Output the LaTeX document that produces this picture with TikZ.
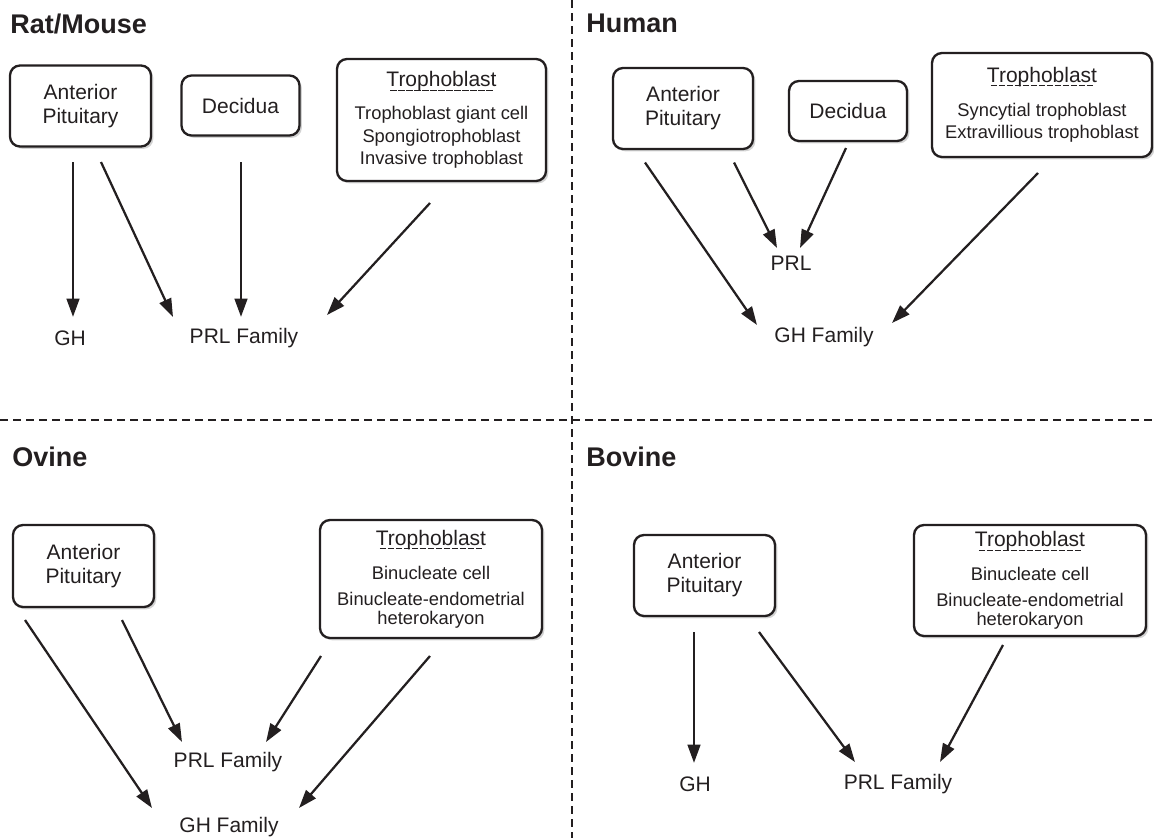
\documentclass[tikz,border=0pt]{standalone}
\usepackage{fontspec}
\setmainfont{Liberation Sans}
\usetikzlibrary{arrows.meta,shadows}
\definecolor{ink}{RGB}{35,31,32}
\newcommand\brokenul[1]{\setbox0\hbox{#1}\leavevmode
  \rlap{\raisebox{-2.4pt}{\hbox to \wd0{\cleaders\hbox{\kern.5pt\vrule width 3.8pt height .6pt depth 0pt\kern.5pt}\hfill}}}\box0}
\newcommand\trohead{{\fontsize{12.6}{13.5}\selectfont\brokenul{Trophoblast}}}

\begin{document}
\begin{tikzpicture}[x=0.6pt,y=-0.6pt,
  every node/.style={text=ink, font=\fontsize{12.6}{14.4}\selectfont},
  box/.style={draw=ink, line width=1.4pt, rounded corners=6pt, fill=white, align=center, inner sep=0pt,
    drop shadow={shadow xshift=1.4pt, shadow yshift=-1.4pt, opacity=.35}},
  list/.style={font=\fontsize{11}{13.5}\selectfont},
  ttl/.style={anchor=west, inner sep=0pt, font=\fontsize{16.2}{19}\selectfont\bfseries},
  arr/.style={draw=ink, line width=1.35pt, -{Triangle[length=11pt,width=7.5pt]}},
  sep/.style={draw=ink, line width=1.2pt, dash pattern=on 4.8pt off 3pt}]
 \useasboundingbox (0,0) rectangle (1154,838);

 % quadrant separators
 \draw[sep] (572,0) -- (572,838);
 \draw[sep] (0,420) -- (1154,420);

 % Rat/Mouse
 \node (ratT) [ttl] at (10,24) {Rat/Mouse};
 \node (ratAP) [box, minimum width=84.6pt, minimum height=48.6pt] at (80.5,106) {Anterior\\Pituitary};
 \node (ratDec) [box, minimum width=70.8pt, minimum height=36pt] at (240.5,105.5) {Decidua};
 \node (ratTro) [box, list, minimum width=125.4pt, minimum height=73.2pt] at (441.5,120)
   {\trohead\\[6.3pt]Trophoblast giant cell\\Spongiotrophoblast\\Invasive trophoblast};
 \node (ratGH) at (70,338) {GH};
 \node (ratPRL) at (244,338) {PRL Family};
 \draw[arr, line width=1.7pt] ([shift={(-7.5,56)}]ratAP.center) -- ([shift={(3,-21)}]ratGH.center);
 \draw[arr] ([shift={(20.5,56)}]ratAP.center) -- ([shift={(-71,-21)}]ratPRL.center);
 \draw[arr, line width=1.7pt] ([shift={(0.5,56.5)}]ratDec.center) -- ([shift={(-3,-21)}]ratPRL.center);
 \draw[arr] ([shift={(-11.5,83)}]ratTro.center) -- ([shift={(83,-23)}]ratPRL.center);

 % Human
 \node (humT) [ttl] at (586,23) {Human};
 \node (humAP) [box, minimum width=84pt, minimum height=48.6pt] at (683,108.5) {Anterior\\Pituitary};
 \node (humDec) [box, minimum width=70.8pt, minimum height=36pt] at (848,111) {Decidua};
 \node (humTro) [box, list, minimum width=132pt, minimum height=62.4pt] at (1042,105)
   {\trohead\\[6.9pt]Syncytial trophoblast\\Extravillious trophoblast};
 \node (humPRL) at (791,263) {PRL};
 \node (humGHF) at (824,337) {GH Family};
 \draw[arr] ([shift={(-38,54)}]humAP.center) -- ([shift={(-67,-12)}]humGHF.center);
 \draw[arr] ([shift={(51,54)}]humAP.center) -- ([shift={(-14,-15)}]humPRL.center);
 \draw[arr] ([shift={(-2,37)}]humDec.center) -- ([shift={(9,-15)}]humPRL.center);
 \draw[arr] ([shift={(-4,68)}]humTro.center) -- ([shift={(68,-14)}]humGHF.center);

 % Ovine
 \node (ovT) [ttl] at (12,457) {Ovine};
 \node (ovAP) [box, minimum width=84.6pt, minimum height=49.2pt] at (83.5,566) {Anterior\\Pituitary};
 \node (ovTro) [box, list, minimum width=133.2pt, minimum height=70.8pt] at (431,579)
   {\trohead\\[6.9pt]Binucleate cell\\[2.1pt]Binucleate-endometrial\\[-2.1pt]heterokaryon};
 \node (ovPRL) at (228,762) {PRL Family};
 \node (ovGHF) at (229,827) {GH Family};
 \draw[arr] ([shift={(-58.5,54)}]ovAP.center) -- ([shift={(-77,-19)}]ovGHF.center);
 \draw[arr] ([shift={(38.5,54)}]ovAP.center) -- ([shift={(-46,-20)}]ovPRL.center);
 \draw[arr] ([shift={(-110,77)}]ovTro.center) -- ([shift={(38,-20)}]ovPRL.center);
 \draw[arr] ([shift={(-1,77)}]ovTro.center) -- ([shift={(70,-19)}]ovGHF.center);

 % Bovine
 \node (bovT) [ttl] at (586,457) {Bovine};
 \node (bovAP) [box, minimum width=84.6pt, minimum height=48.6pt] at (704.5,575.5) {Anterior\\Pituitary};
 \node (bovTro) [box, list, minimum width=139.2pt, minimum height=66.6pt] at (1030,580.5)
   {\trohead\\[6.9pt]Binucleate cell\\[2.1pt]Binucleate-endometrial\\[-2.1pt]heterokaryon};
 \node (bovGH) at (695,784) {GH};
 \node (bovPRL) at (898,784) {PRL Family};
 \draw[arr, line width=1.7pt] ([shift={(-10.5,56.5)}]bovAP.center) -- ([shift={(-1,-21)}]bovGH.center);
 \draw[arr] ([shift={(54.5,56.5)}]bovAP.center) -- ([shift={(-43,-22)}]bovPRL.center);
 \draw[arr] ([shift={(-27,64.5)}]bovTro.center) -- ([shift={(42,-22)}]bovPRL.center);
\end{tikzpicture}
\end{document}
